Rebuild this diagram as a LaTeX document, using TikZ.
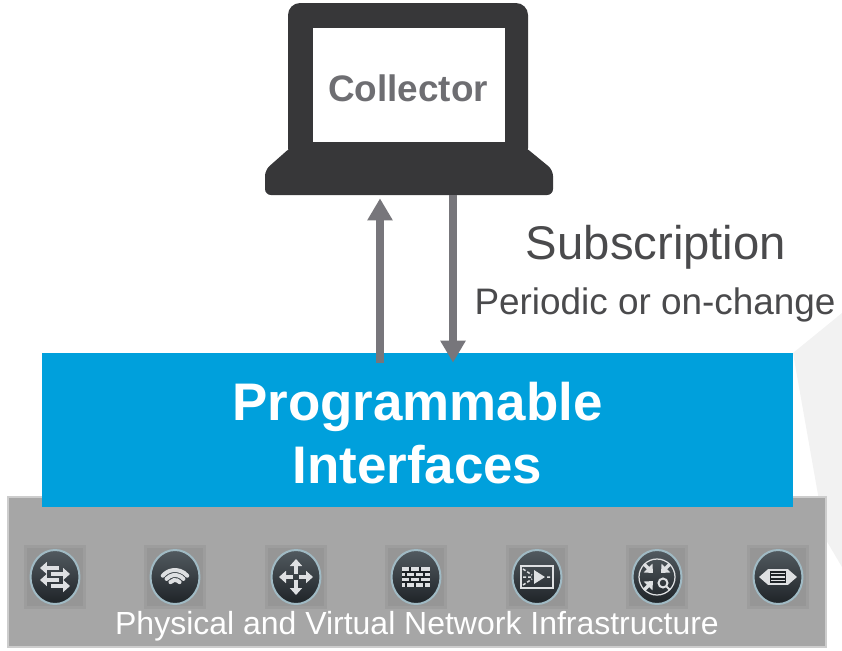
\documentclass[tikz,border=0pt]{standalone}
\usepackage{fontspec}
\setmainfont{Liberation Sans}
\definecolor{laptopdark}{RGB}{55, 55, 57}
\definecolor{labelgrey}{RGB}{110, 110, 114}
\definecolor{arrowgrey}{RGB}{119, 118, 123}
\definecolor{textgrey}{RGB}{74, 74, 76}
\definecolor{ifblue}{RGB}{0, 160, 220}
\definecolor{infragrey}{RGB}{166, 166, 166}
\definecolor{infraedge}{RGB}{205, 205, 205}
\definecolor{shadegrey}{RGB}{242, 242, 242}
\definecolor{discring}{RGB}{160, 186, 196}
\definecolor{disctop}{RGB}{82, 90, 96}
\definecolor{discbottom}{RGB}{30, 35, 39}
\definecolor{glyphwhite}{RGB}{222, 224, 226}
\usetikzlibrary{arrows.meta, positioning, shapes.geometric}

\tikzset{
  flow/.style={arrowgrey, line width=0.16cm, -{Triangle[width=0.48cm, length=0.44cm]}},
  disc/.style={ellipse, minimum width=0.98cm, minimum height=1.08cm, inner sep=0pt,
    draw=discring, line width=0.04cm, top color=disctop, bottom color=discbottom},
  glyph/.style={glyphwhite, line width=0.07cm},
  garrow/.style={glyph, -{Triangle[width=0.24cm, length=0.14cm]}},
}

\begin{document}
\begin{tikzpicture}[x=0.02cm, y=-0.02cm]
  \useasboundingbox (0,0) rectangle (842,650);

  % faint backdrop on the right
  \fill[shadegrey] (793,353) -- (842,313) -- (842,567) -- (826,540) -- cycle;

  % infrastructure strip
  \fill[infragrey, draw=infraedge, line width=0.04cm] (8,497) rectangle (826,647);
  \foreach \x [count=\i] in {55,175,296,416,537,657,778} {
    \fill[black, opacity=.05] (\x-31,545) rectangle (\x+31,609);
    \fill[black, opacity=.04] (\x-28,548) rectangle (\x+28,606);
    \node[disc] (icon\i) at (\x,577) {};
  }
  \node[text=white, font=\fontsize{18.2}{21}\selectfont] (infra) at (417,626) {Physical and Virtual Network Infrastructure};

  % switch
  \begin{scope}[shift={(icon1.center)}, yscale=-1]
    \draw[garrow] (4,9) -- (-15,9);
    \draw[garrow] (-4,3) -- (15,3);
    \draw[garrow] (4,-3) -- (-15,-3);
    \draw[garrow] (-4,-9) -- (15,-9);
  \end{scope}
  % wireless
  \begin{scope}[shift={(icon2.center)}, yscale=-1]
    \foreach \r in {6,11,16}
      \draw[glyph, line width=0.08cm, line cap=round] (0,-9) ++(40:\r) arc[start angle=40, end angle=140, radius=\r];
  \end{scope}
  % router
  \begin{scope}[shift={(icon3.center)}, yscale=-1]
    \draw[garrow] (3,0) -- (17,0);
    \draw[garrow] (-3,0) -- (-17,0);
    \draw[garrow] (0,3) -- (0,18);
    \draw[garrow] (0,-3) -- (0,-18);
  \end{scope}
  % firewall
  \begin{scope}[shift={(icon4.center)}, yscale=-1]
    \fill[glyphwhite] (-14,-10) rectangle (14,10);
    \draw[discbottom, line width=0.025cm] (-14,-5) -- (14,-5) (-14,0) -- (14,0) (-14,5) -- (14,5);
    \foreach \vx in {-6,4} \draw[discbottom, line width=0.025cm] (\vx,5) -- (\vx,10) (\vx,-5) -- (\vx,0);
    \foreach \vx in {-10,-1,8} \draw[discbottom, line width=0.025cm] (\vx,0) -- (\vx,5) (\vx,-10) -- (\vx,-5);
  \end{scope}
  % service module
  \begin{scope}[shift={(icon5.center)}, yscale=-1]
    \draw[glyph, line width=0.025cm] (-16,-11) rectangle (16,11);
    \fill[glyphwhite] (-3,7) -- (8,0) -- (-3,-7) -- cycle;
    \draw[glyph, line width=0.03cm, dash pattern=on 0.06cm off 0.04cm]
      (-14,8) -- (-5,2) (-14,0) -- (-5,0) (-14,-8) -- (-5,-2) (10,0) -- (16,0);
  \end{scope}
  % monitoring
  \begin{scope}[shift={(icon6.center)}, yscale=-1]
    \draw[glyph, line width=0.025cm] (0,0) circle[radius=18];
    \draw[garrow] (-13,13) -- (-4,4);
    \draw[garrow] (13,13) -- (4,4);
    \draw[garrow] (-13,-13) -- (-4,-4);
    \draw[glyph, line width=0.04cm] (6,-6) circle[radius=4.5] (9.5,-9.5) -- (13,-13);
  \end{scope}
  % load balancer
  \begin{scope}[shift={(icon7.center)}, yscale=-1]
    \draw[glyph, {Triangle[width=0.3cm, length=0.18cm]}-{Triangle[width=0.3cm, length=0.18cm]}] (-19,0) -- (19,0);
    \fill[discbottom] (-9,-7) rectangle (9,7);
    \draw[glyph, line width=0.03cm] (-9,-7) rectangle (9,7) (-7,-3.5) -- (7,-3.5) (-7,0) -- (7,0) (-7,3.5) -- (7,3.5);
  \end{scope}

  % programmable interfaces
  \node[fill=ifblue, minimum width=15.02cm, minimum height=3.08cm, inner sep=0pt] (prog) at (417.5,430) {};
  \node[text=white, align=center, font=\bfseries\fontsize{30.1}{35.8}\selectfont] (progtext) at (417.5,433) {Programmable\\Interfaces};

  % collector laptop
  \fill[laptopdark, rounded corners=0.24cm] (288,3) rectangle (528,160);
  \fill[laptopdark, rounded corners=0.12cm] (291,147) -- (525,147) -- (553,170) -- (553,195) -- (265,195) -- (265,170) -- cycle;
  \node[fill=white, minimum width=3.84cm, minimum height=2.28cm, inner sep=0pt] (screen) at (409,85) {};
  \node[text=labelgrey, font=\bfseries\fontsize{21}{25}\selectfont] (collector) at (408,88) {Collector};
  \node[minimum width=5.76cm, minimum height=0.96cm, inner sep=0pt] (lapbase) at (409,171) {};

  % telemetry flow
  \coordinate (upline) at (380,0);
  \coordinate (downline) at (453,0);
  \draw[flow, shorten <=-0.2cm, shorten >=0.06cm] (prog.north -| upline) -- (lapbase.south -| upline);
  \draw[flow, shorten >=-0.2cm] (lapbase.south -| downline) -- (prog.north -| downline);

  \node[text=textgrey, font=\fontsize{26.9}{30}\selectfont] (subs) at (656,247) {Subscription};
  \node[text=textgrey, font=\fontsize{21}{25}\selectfont] (period) at (655,305) {Periodic or on-change};
\end{tikzpicture}
\end{document}
